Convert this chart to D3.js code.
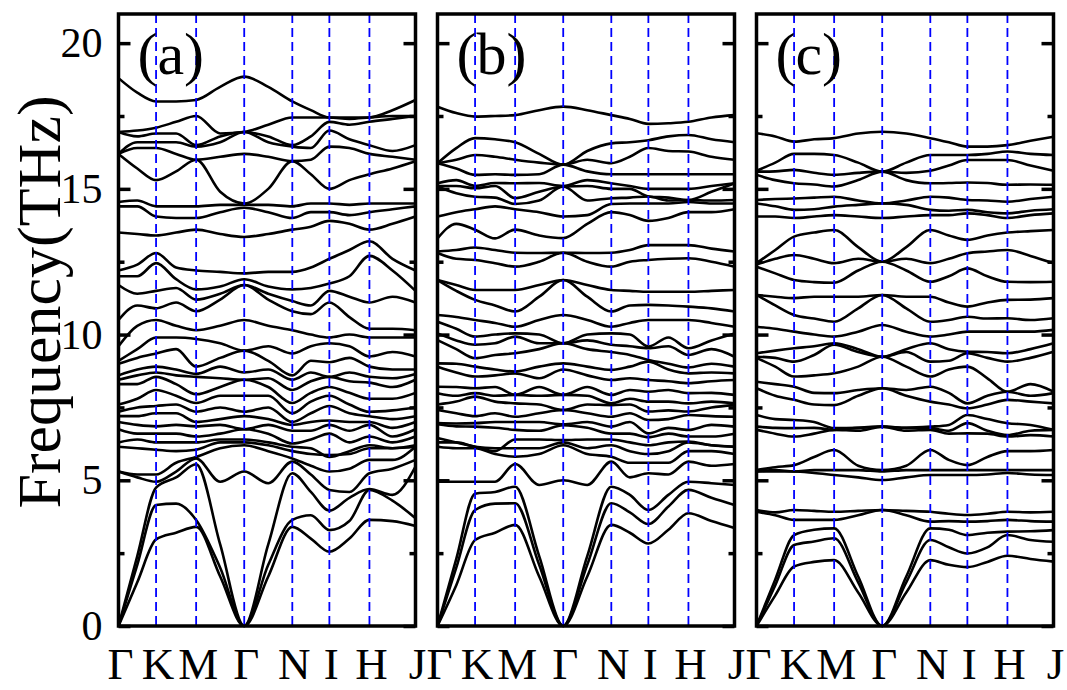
<!DOCTYPE html>
<html>
<head>
<meta charset="utf-8">
<script src="https://cdn.jsdelivr.net/npm/d3@7"></script>
<style>
body { margin: 0; background: #fff; }
svg { display: block; }
</style>
</head>
<body>
<svg width="1067" height="690"></svg>
<script>
// high-symmetry path, fractional distance along each panel
const kNames = ["Γ", "K", "M", "Γ", "N", "I", "H", "J"];
const kPath = [0, 0.1265, 0.2614, 0.4233, 0.5852, 0.71, 0.8449, 1];
const panelNames = ["(a)", "(b)", "(c)"];
const majorTicks = [0, 5, 10, 15, 20];
const minorTicks = [2.5, 7.5, 12.5, 17.5];

// frequencies (THz) read at each column:
// Γ, ½, K, ½, M, ½, Γ, ½, N, ½, I, ½, H, ½, J
const lowA = [
  [0, 0, 0, 5.3, 5.3, 6.15],
  [1.5, 2.1, 2.4, 5.1, 5.2, 6.1],
  [2.97, 4.15, 4.75, 4.95, 5.2, 6.05],
  [3.2, 4.2, 5.1, 5.3, 5.6, 6.0],
  [3.4, 3.64, 5.55, 5.75, 5.8, 6.05],
  [1.7, 2.0, 2.8, 4.95, 6.1, 6.3],
  [0, 0, 0, 5.3, 6.2, 6.3],
  [1.7, 2.1, 2.8, 4.9, 6.0, 6.2],
  [3.4, 3.64, 5.24, 5.64, 5.75, 6.0],
  [3.0, 3.8, 4.6, 5.2, 5.5, 5.9],
  [2.55, 3.29, 3.96, 4.67, 5.3, 5.87],
  [3.0, 3.6, 4.4, 4.6, 5.4, 5.9],
  [3.64, 4.67, 4.7, 5.24, 5.7, 6.1],
  [3.6, 4.3, 4.5, 5.4, 5.7, 6.1],
  [3.43, 3.7, 5.47, 5.7, 6.15, 6.2]
];
const midA = [
  [12.2, 12.0, 11.7, 10.5, 9.6, 9.1, 9.0, 8.6, 8.45, 8.3, 7.6, 7.35, 7.2, 7.0, 6.75, 6.3],
  [12.4, 12.0, 11.4, 11.0, 10.3, 9.5, 9.2, 8.8, 8.6, 8.3, 7.8, 7.5, 7.2, 6.9, 6.6, 6.4],
  [12.8, 12.45, 11.5, 10.9, 10.5, 9.9, 9.35, 8.9, 8.7, 8.55, 8.1, 7.55, 7.3, 6.85, 6.6, 6.3],
  [12.3, 11.9, 11.6, 11.1, 10.3, 9.9, 9.5, 8.8, 8.6, 8.3, 7.9, 7.6, 7.3, 6.9, 6.6, 6.3],
  [12.2, 11.55, 11.2, 10.8, 10.15, 9.85, 8.9, 8.65, 8.55, 7.95, 7.65, 7.35, 7.0, 6.85, 6.5, 6.3],
  [12.15, 11.65, 11.4, 11.2, 10.3, 9.7, 9.2, 8.9, 8.5, 8.2, 7.9, 7.5, 7.1, 6.9, 6.6, 6.4],
  [12.1, 11.9, 11.7, 11.7, 10.5, 9.45, 9.45, 8.7, 8.45, 8.45, 7.9, 7.35, 7.2, 6.75, 6.75, 6.4],
  [12.15, 11.65, 11.4, 11.2, 10.3, 9.6, 9.1, 8.8, 8.5, 8.2, 7.9, 7.5, 7.1, 6.9, 6.6, 6.3],
  [12.15, 11.55, 11.15, 10.8, 10.15, 9.35, 8.6, 8.45, 8.1, 7.65, 7.3, 7.0, 6.9, 6.7, 6.26, 6.15],
  [12.3, 11.6, 11.0, 10.7, 10.0, 9.6, 9.1, 8.7, 8.4, 8.0, 7.7, 7.3, 7.0, 6.7, 6.4, 6.1],
  [12.6, 11.75, 11.5, 11.1, 9.9, 9.7, 9.05, 8.55, 8.55, 8.2, 7.9, 7.55, 7.05, 6.9, 6.6, 5.8],
  [12.9, 12.0, 11.3, 10.6, 10.0, 9.6, 9.2, 8.7, 8.4, 8.0, 7.6, 7.3, 7.0, 6.7, 6.3, 6.0],
  [13.2, 12.7, 11.1, 10.2, 9.9, 9.25, 8.9, 8.55, 8.35, 7.8, 7.35, 7.2, 7.0, 6.9, 6.5, 6.2],
  [12.6, 12.2, 11.3, 10.2, 9.9, 9.4, 8.8, 8.5, 8.2, 7.8, 7.4, 7.1, 6.8, 6.5, 6.3, 6.1],
  [12.2, 11.5, 11.1, 10.15, 9.9, 9.25, 8.8, 8.65, 8.45, 8.0, 7.5, 7.2, 7.0, 6.75, 6.5, 6.15]
];
const topA = [
  [13.5, 14.4, 14.55, 16.2, 16.2, 16.2, 16.95, 16.95, 18.8],
  [13.45, 14.4, 14.6, 15.7, 16.4, 16.6, 16.8, 17.0, 18.3],
  [13.4, 14.05, 14.4, 15.3, 16.4, 16.6, 16.9, 17.1, 18.0],
  [13.5, 14.0, 14.4, 15.6, 16.2, 16.6, 16.9, 17.3, 18.0],
  [13.6, 14.0, 14.4, 16.0, 16.0, 16.45, 16.5, 17.5, 18.05],
  [13.45, 14.2, 14.45, 14.9, 16.1, 16.6, 16.8, 16.9, 18.5],
  [13.35, 14.35, 14.45, 14.5, 16.2, 16.95, 16.95, 16.95, 18.85],
  [13.45, 14.2, 14.45, 15.0, 16.1, 16.6, 16.8, 17.2, 18.5],
  [13.6, 14.0, 14.4, 15.95, 15.95, 16.45, 16.5, 17.45, 18.0],
  [13.7, 14.2, 14.5, 15.5, 16.0, 16.4, 16.8, 17.45, 17.7],
  [13.9, 14.2, 14.5, 15.0, 16.45, 17.0, 17.3, 17.45, 17.45],
  [13.8, 14.1, 14.45, 15.3, 16.4, 16.7, 17.2, 17.4, 17.45],
  [13.6, 14.2, 14.5, 15.5, 16.2, 16.5, 17.3, 17.45, 17.45],
  [13.8, 14.3, 14.5, 15.7, 16.1, 16.3, 17.4, 17.5, 17.7],
  [14.05, 14.4, 14.5, 15.95, 16.0, 16.5, 17.5, 17.5, 18.05]
];

const lowB = [
  [0, 0, 0, 4.95, 6.15, 6.3],
  [1.4, 2.0, 2.3, 4.95, 6.1, 6.3],
  [2.95, 3.98, 4.54, 4.95, 6.1, 6.15],
  [3.2, 4.2, 4.6, 4.95, 5.9, 6.1],
  [3.47, 4.21, 4.78, 5.56, 5.81, 6.1],
  [1.7, 2.1, 2.4, 4.84, 5.9, 6.1],
  [0, 0, 0, 5.0, 6.2, 6.3],
  [1.7, 2.1, 2.4, 4.84, 5.9, 6.1],
  [3.47, 4.21, 4.78, 5.64, 5.81, 6.2],
  [3.2, 3.9, 4.5, 5.1, 5.6, 6.0],
  [2.83, 3.5, 3.98, 5.24, 5.6, 5.9],
  [3.3, 4.1, 4.5, 5.2, 5.6, 6.0],
  [3.87, 4.67, 4.95, 5.64, 6.0, 6.3],
  [3.6, 4.4, 4.9, 5.5, 6.0, 6.2],
  [3.36, 4.15, 4.84, 5.56, 5.9, 6.15]
];
const midB = [
  [12.85, 12.8, 11.87, 11.87, 10.67, 10.44, 10.04, 9.81, 9.01, 8.9, 8.21, 7.99, 7.6, 7.41, 6.96, 6.92, 6.45],
  [12.9, 12.6, 11.7, 11.5, 10.6, 10.2, 9.8, 9.5, 9.0, 8.7, 8.2, 7.9, 7.7, 7.3, 6.95, 6.85, 6.3],
  [12.99, 12.56, 11.53, 11.19, 10.5, 9.93, 9.65, 9.19, 8.9, 8.56, 8.16, 7.99, 7.87, 7.2, 6.96, 6.84, 6.15],
  [12.9, 12.45, 11.53, 11.0, 10.4, 10.0, 9.7, 9.3, 8.8, 8.6, 8.2, 7.9, 7.7, 7.3, 7.0, 6.8, 6.0],
  [12.81, 12.33, 11.53, 10.79, 10.27, 10.04, 9.93, 9.36, 8.73, 8.67, 7.93, 7.93, 7.64, 7.18, 7.0, 6.73, 6.4],
  [12.8, 12.5, 11.7, 11.3, 10.5, 10.0, 9.7, 9.5, 8.9, 8.5, 8.2, 7.9, 7.6, 7.3, 7.0, 6.7, 6.4],
  [12.81, 12.81, 11.87, 11.87, 10.67, 9.7, 9.7, 9.7, 9.01, 8.8, 7.93, 7.93, 7.41, 7.41, 6.92, 6.89, 6.38],
  [12.8, 12.5, 11.7, 11.3, 10.5, 10.0, 9.8, 9.5, 8.9, 8.6, 8.2, 7.9, 7.6, 7.3, 7.0, 6.8, 6.4],
  [12.81, 12.33, 11.53, 10.79, 10.27, 10.04, 9.65, 9.4, 8.79, 8.44, 7.93, 7.64, 7.58, 7.18, 6.84, 6.6, 6.4],
  [12.9, 12.5, 11.5, 11.0, 10.4, 10.0, 9.6, 9.3, 8.9, 8.5, 8.1, 7.8, 7.6, 7.3, 7.0, 6.6, 6.3],
  [13.07, 12.56, 11.47, 11.02, 10.5, 9.59, 9.53, 9.13, 9.07, 8.44, 8.04, 7.7, 7.36, 7.07, 6.61, 6.48, 6.2],
  [13.07, 12.6, 11.47, 11.0, 10.5, 9.9, 9.6, 9.0, 8.8, 8.4, 8.1, 7.7, 7.4, 7.1, 6.8, 6.6, 6.3],
  [13.07, 12.62, 11.47, 10.96, 10.5, 9.53, 9.3, 8.87, 8.67, 8.33, 7.99, 7.64, 7.36, 7.24, 6.73, 6.5, 6.33],
  [12.95, 12.5, 11.5, 10.9, 10.4, 9.8, 9.5, 9.0, 8.7, 8.4, 8.0, 7.7, 7.5, 7.2, 6.9, 6.5, 6.2],
  [12.85, 12.33, 11.53, 10.79, 10.27, 10.04, 9.24, 8.9, 8.67, 8.44, 7.93, 7.64, 7.58, 7.18, 6.84, 6.6, 6.15]
];
const topB = [
  [13.3, 14.05, 15.08, 15.1, 15.19, 15.88, 15.88, 15.88, 17.82],
  [13.8, 14.2, 14.85, 15.1, 15.3, 15.7, 16.0, 16.4, 17.6],
  [13.6, 14.3, 14.73, 15.02, 15.1, 15.48, 16.16, 16.74, 17.48],
  [13.3, 14.4, 14.7, 15.1, 15.2, 15.5, 16.1, 16.7, 17.5],
  [13.6, 14.3, 14.48, 14.68, 15.19, 15.48, 16.0, 16.6, 17.53],
  [13.4, 14.2, 14.6, 14.9, 15.2, 15.5, 15.9, 16.2, 17.7],
  [13.31, 14.05, 15.08, 15.08, 15.1, 15.83, 15.83, 15.83, 17.82],
  [13.8, 14.1, 14.6, 15.1, 15.3, 15.6, 16.0, 16.3, 17.7],
  [14.2, 14.48, 14.68, 15.0, 15.19, 15.5, 15.88, 16.56, 17.53],
  [14.1, 14.5, 14.7, 15.0, 15.1, 15.5, 16.1, 16.6, 17.4],
  [13.9, 14.5, 14.74, 14.74, 15.0, 15.5, 16.4, 16.67, 17.23],
  [14.0, 14.5, 14.6, 14.7, 15.0, 15.5, 16.3, 16.8, 17.25],
  [14.2, 14.55, 14.62, 14.62, 15.0, 15.5, 16.28, 16.85, 17.3],
  [14.2, 14.5, 14.6, 14.9, 15.1, 15.5, 16.1, 16.7, 17.45],
  [14.3, 14.5, 14.62, 15.19, 15.19, 15.5, 16.0, 16.6, 17.53]
];

const lowC = [
  [0, 0, 0, 3.92, 3.98, 5.3, 5.3, 5.35],
  [1.05, 1.4, 1.6, 3.8, 3.9, 5.3, 5.35, 5.45],
  [2.04, 2.78, 3.12, 3.64, 3.98, 5.3, 5.3, 5.52],
  [2.2, 2.9, 3.3, 3.64, 3.95, 5.25, 5.35, 5.8],
  [2.26, 3.01, 3.35, 3.64, 3.92, 5.18, 5.35, 6.04],
  [1.15, 1.5, 1.7, 3.8, 3.95, 5.1, 5.35, 5.5],
  [0, 0, 0, 3.98, 3.98, 5.01, 5.3, 5.35],
  [1.15, 1.5, 1.7, 3.8, 3.95, 5.1, 5.35, 5.5],
  [2.26, 2.95, 3.35, 3.58, 3.92, 5.18, 5.35, 6.04],
  [2.1, 2.7, 3.3, 3.6, 3.85, 5.18, 5.35, 5.7],
  [2.02, 2.49, 3.12, 3.58, 3.81, 5.18, 5.35, 5.52],
  [2.2, 2.7, 3.2, 3.6, 3.85, 5.2, 5.35, 5.8],
  [2.41, 3.12, 3.24, 3.64, 3.92, 5.25, 5.35, 6.0],
  [2.3, 2.95, 3.25, 3.6, 3.9, 5.2, 5.35, 6.0],
  [2.21, 2.89, 3.29, 3.58, 3.92, 5.18, 5.35, 6.04]
];
const midC = [
  [12.45, 12.4, 12.33, 11.36, 11.36, 10.27, 9.36, 9.24, 9.2, 8.38, 8.16, 7.24, 6.84, 6.73],
  [12.9, 12.6, 12.1, 11.3, 11.0, 10.2, 9.45, 9.2, 8.9, 8.3, 7.9, 7.1, 6.8, 6.6],
  [13.36, 12.73, 11.87, 11.25, 10.67, 10.1, 9.53, 9.07, 8.56, 8.21, 7.76, 7.07, 6.79, 6.5],
  [13.5, 12.6, 11.8, 11.3, 10.55, 10.0, 9.6, 9.3, 8.6, 8.0, 7.6, 7.0, 6.8, 6.6],
  [13.59, 12.45, 11.78, 11.3, 10.44, 9.93, 9.7, 9.65, 8.67, 7.99, 7.58, 6.79, 6.73, 6.73],
  [13.0, 12.6, 12.2, 11.3, 10.9, 10.1, 9.5, 9.4, 8.9, 8.1, 7.9, 6.8, 6.8, 6.7],
  [12.5, 12.5, 12.5, 11.36, 11.36, 10.33, 9.24, 9.24, 9.24, 8.16, 8.16, 6.84, 6.84, 6.84],
  [13.0, 12.6, 12.2, 11.3, 10.9, 10.1, 9.5, 9.4, 8.9, 8.1, 7.9, 6.8, 6.8, 6.7],
  [13.59, 12.45, 11.81, 11.3, 10.44, 9.93, 9.7, 9.07, 8.56, 8.21, 7.7, 6.84, 6.79, 6.73],
  [13.4, 12.6, 12.0, 11.1, 10.5, 10.0, 9.5, 9.1, 8.8, 8.0, 7.6, 6.9, 6.7, 6.6],
  [13.25, 12.79, 12.27, 10.96, 10.61, 10.1, 9.41, 9.36, 8.9, 7.64, 7.47, 7.24, 6.96, 6.61],
  [13.4, 12.85, 12.0, 11.1, 10.55, 10.1, 9.4, 9.2, 8.5, 7.9, 7.6, 7.1, 6.7, 6.6],
  [13.5, 12.9, 11.81, 11.19, 10.56, 10.1, 9.36, 9.07, 8.04, 8.04, 7.76, 6.96, 6.55, 6.5],
  [13.55, 12.7, 11.8, 11.2, 10.5, 10.1, 9.5, 9.2, 8.3, 7.9, 7.7, 6.9, 6.7, 6.55],
  [13.59, 12.45, 11.81, 11.25, 10.56, 10.16, 9.7, 9.41, 8.04, 7.99, 7.64, 6.73, 6.73, 6.5]
];
const topC = [
  [14.05, 14.5, 14.62, 15.48, 15.59, 15.62, 16.91],
  [14.05, 14.4, 14.65, 15.3, 15.6, 15.9, 16.8],
  [14.0, 14.28, 14.67, 15.19, 15.65, 16.2, 16.62],
  [14.05, 14.3, 14.7, 15.15, 15.55, 16.2, 16.7],
  [14.1, 14.39, 14.73, 15.08, 15.48, 16.16, 16.74],
  [14.05, 14.45, 14.6, 15.3, 15.55, 15.9, 16.9],
  [14.0, 14.5, 14.5, 15.59, 15.59, 15.59, 16.96],
  [14.05, 14.45, 14.6, 15.3, 15.55, 15.9, 16.9],
  [14.1, 14.28, 14.73, 15.19, 15.62, 16.16, 16.74],
  [14.1, 14.25, 14.7, 15.2, 15.8, 16.16, 16.6],
  [14.16, 14.28, 14.62, 15.22, 15.99, 16.16, 16.45],
  [14.1, 14.2, 14.6, 15.2, 15.99, 16.2, 16.45],
  [14.0, 14.16, 14.56, 15.14, 15.99, 16.28, 16.5],
  [14.1, 14.25, 14.65, 15.15, 15.8, 16.2, 16.65],
  [14.16, 14.3, 14.73, 15.14, 15.62, 16.16, 16.79]
];

const panels = [
  [lowA, midA, topA],
  [lowB, midB, topB],
  [lowC, midC, topC]
];

const svg = d3.select("svg");
const serif = "'Liberation Serif', 'Times New Roman', serif";

const W = 297, step = 319, x0 = 118.5;
const y = d3.scaleLinear().domain([0, 21]).range([626, 14]);

// column positions: high-symmetry points plus the midpoints between them
const kGrid = [];
kPath.forEach((k, i) => {
  kGrid.push(k);
  if (i < kPath.length - 1) kGrid.push((k + kPath[i + 1]) / 2);
});

panels.forEach((groups, p) => {
  const left = x0 + p * step;
  const x = d3.scaleLinear().domain([0, 1]).range([left, left + W]);
  const g = svg.append("g");

  const line = d3.line()
    .x(d => x(d[0]))
    .y(d => y(d[1]))
    .curve(d3.curveMonotoneX);

  // bands: within each group, the i-th lowest value of every column
  groups.forEach(cols => {
    const sorted = cols.map(c => c.slice().sort((a, b) => a - b));
    const n = d3.min(sorted, c => c.length);
    const bands = d3.range(n).map(b => sorted.map((c, j) => [kGrid[j], c[b]]));
    g.selectAll(null).data(bands).enter().append("path")
      .attr("d", line)
      .attr("fill", "none")
      .attr("stroke", "#000")
      .attr("stroke-width", 2.6)
      .attr("stroke-linejoin", "round");
  });

  // dashed high-symmetry lines
  g.selectAll(null).data(kPath.slice(1, -1)).enter().append("line")
    .attr("x1", d => x(d)).attr("x2", d => x(d))
    .attr("y1", y(21)).attr("y2", y(0))
    .attr("stroke", "#0000ff")
    .attr("stroke-width", 1.8)
    .attr("stroke-dasharray", "9,5");

  // ticks, inward on both sides
  const addAxis = (axis, tx) => {
    const a = g.append("g").attr("transform", `translate(${tx},0)`).call(axis);
    a.select(".domain").remove();
    a.selectAll(".tick line").attr("stroke", "#000").attr("stroke-width", 3.5);
    a.selectAll("text")
      .attr("font-family", serif)
      .attr("font-size", 42)
      .attr("fill", "#000");
    return a;
  };
  addAxis(d3.axisLeft(y).tickValues(majorTicks).tickSizeInner(-12).tickSizeOuter(0)
    .tickPadding(16).tickFormat(p === 0 ? d3.format("d") : () => ""), left);
  addAxis(d3.axisLeft(y).tickValues(minorTicks).tickSizeInner(-6).tickSizeOuter(0)
    .tickFormat(() => ""), left);
  addAxis(d3.axisRight(y).tickValues(majorTicks).tickSizeInner(-12).tickSizeOuter(0)
    .tickFormat(() => ""), left + W);
  addAxis(d3.axisRight(y).tickValues(minorTicks).tickSizeInner(-6).tickSizeOuter(0)
    .tickFormat(() => ""), left + W);

  // frame
  g.append("rect")
    .attr("x", left).attr("y", y(21))
    .attr("width", W).attr("height", y(0) - y(21))
    .attr("fill", "none")
    .attr("stroke", "#000")
    .attr("stroke-width", 3.5);

  // panel tag
  g.append("text")
    .attr("x", left + 19).attr("y", 74)
    .attr("font-family", serif)
    .attr("font-size", 60)
    .text(panelNames[p]);

  // k-point labels
  g.selectAll(null).data(kPath).enter().append("text")
    .attr("x", d => x(d) + 2)
    .attr("y", 679)
    .attr("text-anchor", "middle")
    .attr("font-family", serif)
    .attr("font-size", 45)
    .text((d, i) => kNames[i]);
});

svg.append("text")
  .attr("transform", "translate(60,302) rotate(-90)")
  .attr("text-anchor", "middle")
  .attr("font-family", serif)
  .attr("font-size", 62)
  .text("Frequency(THz)");
</script>
</body>
</html>
